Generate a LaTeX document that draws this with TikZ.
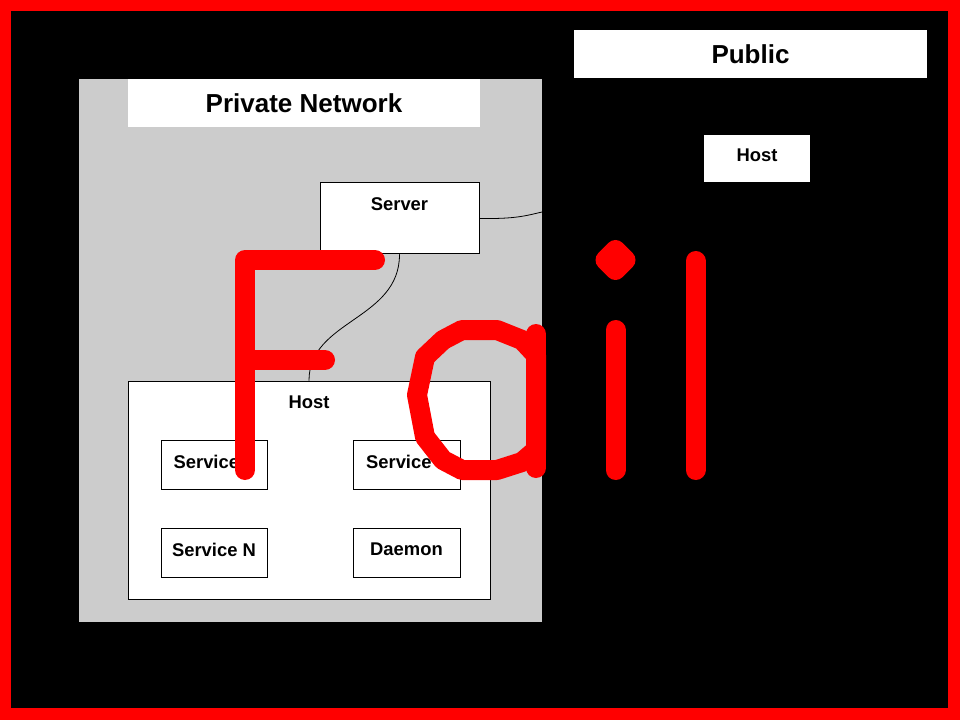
\documentclass[tikz,border=0pt]{standalone}
\usepackage{fontspec}
\setmainfont{Liberation Sans}
\usetikzlibrary{positioning}

\tikzset{
  box/.style={draw=black, fill=white, line width=0.75pt, inner sep=0pt},
  titlebox/.style={fill=white, inner sep=0pt},
  bigtext/.style={font=\bfseries\fontsize{19.5}{22}\selectfont},
  smalltext/.style={font=\bfseries\fontsize{13.8}{16}\selectfont},
  raised/.style={text depth=4.5pt},
  wire/.style={draw=black, line width=0.6pt},
  failstroke/.style={draw=red, line width=15pt, line cap=round, line join=round},
}

\begin{document}
\begin{tikzpicture}[x=0.75pt,y=-0.75pt,cap=round,>=latex]

% draw the frame
\fill[red] (0,0) rectangle (960,720);
\fill[black] (11,11) rectangle (948,708);

% draw the private network
\node[fill=gray!40, inner sep=0pt, minimum width=347.25pt, minimum height=407.25pt] (private) at (310.5,350.5) {};
\node[titlebox, bigtext, minimum width=264pt, minimum height=36pt] (privatetitle) at (304,103) {Private Network};

% draw the public side
\node[titlebox, bigtext, minimum width=264.75pt, minimum height=36pt] (publictitle) at (750.5,54) {Public};
\node[titlebox, smalltext, raised, minimum width=79.5pt, minimum height=35.25pt] (publichost) at (757,158.5) {Host};

% server and host boxes
\node[box, minimum width=119.25pt, minimum height=53.25pt] (server) at (399.5,218.5) {};
\node[smalltext, inner sep=0pt, below=11pt of server.north] (serverlabel) {Server};

\node[box, minimum width=271.5pt, minimum height=163.5pt] (host) at (309,490) {};
\node[smalltext, inner sep=0pt, below=11pt of host.north] (hostlabel) {Host};

% the services inside the host
\node[box, smalltext, raised, minimum width=79.5pt, minimum height=36.75pt] (serviceone) at (214,464.5) {Service 1};
\node[box, smalltext, raised, minimum width=80.25pt, minimum height=36.75pt] (servicetwo) at (406.5,464.5) {Service 2};
\node[box, smalltext, raised, minimum width=79.5pt, minimum height=36.75pt] (servicen) at (214,552.5) {Service N};
\node[box, smalltext, raised, minimum width=80.25pt, minimum height=36.75pt] (daemon) at (406.5,552.5) {Daemon};

% draw the links
\coordinate (edge) at (542,212);
\draw[wire] (server.east) .. controls (515,219) and (525,216) .. (edge);
\draw[wire] (server.south) .. controls (399.5,320) and (309,320) .. (host.north);

% draw the red fail letters
\draw[failstroke] (245,470) -- (245,260) -- (375,260);
\draw[failstroke] (245,360) -- (325,360);
\draw[failstroke] (462,330) -- (497,330) -- (522,340) -- (536,355) -- (536,450) -- (522,462) -- (497,470)
  -- (462,470) -- (443,460) -- (425,437) -- (417,395) -- (425,357) -- (443,340) -- cycle;
\draw[failstroke] (536,334) -- (536,468);
\draw[failstroke] (615.5,330) -- (615.5,470);
\filldraw[failstroke, fill=red] (615.5,250) -- (625.5,260) -- (615.5,270) -- (605.5,260) -- cycle;
\draw[failstroke] (695.5,261) -- (695.5,470);

\end{tikzpicture}
\end{document}
